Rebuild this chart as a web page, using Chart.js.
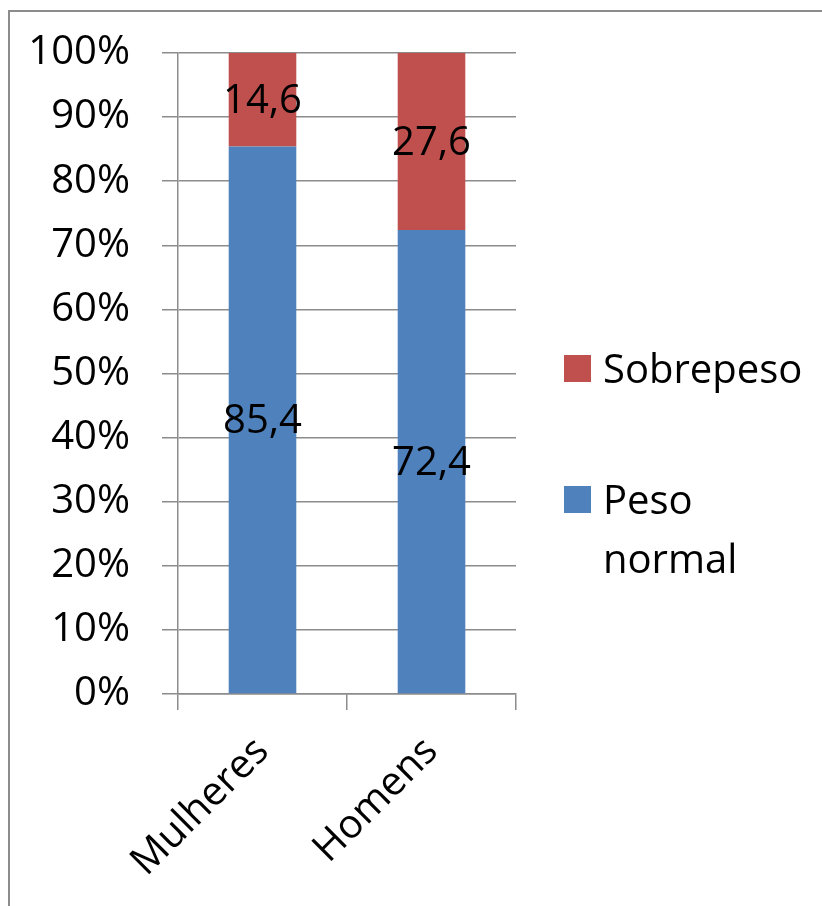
<!DOCTYPE html>
<html>
<head>
<meta charset="utf-8">
<script src="https://cdn.jsdelivr.net/npm/chart.js@4/dist/chart.umd.min.js"></script>
<style>
  html, body { margin: 0; padding: 0; background: #fff; }
  canvas { display: block; }
</style>
</head>
<body>
<canvas id="c" width="822" height="906"></canvas>
<script>
// Distribuição do estado nutricional por sexo (%)
const categories = ['Mulheres', 'Homens'];
const pesoNormal = [85.4, 72.4];
const sobrepeso = [14.6, 27.6];
const seriesNames = { normal: ['Peso', 'normal'], sobre: ['Sobrepeso'] };
const yTicks = [0, 10, 20, 30, 40, 50, 60, 70, 80, 90, 100];

const FONT = '"Open Sans", "DejaVu Sans", sans-serif';
const GRID = '#8c8c8c';

// White page with the thin frame around the figure
const framePlugin = {
  id: 'frame',
  beforeDraw(chart) {
    const ctx = chart.ctx;
    ctx.save();
    ctx.fillStyle = '#fff';
    ctx.fillRect(0, 0, chart.width, chart.height);
    ctx.strokeStyle = '#8c8c8c';
    ctx.lineWidth = 2;
    ctx.strokeRect(9, 11, chart.width + 20, chart.height + 20);
    ctx.restore();
  }
};

// Values written in the middle of every bar segment
const segmentLabels = {
  id: 'segmentLabels',
  afterDatasetsDraw(chart) {
    const ctx = chart.ctx;
    ctx.save();
    ctx.font = '40px ' + FONT;
    ctx.fillStyle = '#000';
    ctx.textAlign = 'center';
    ctx.textBaseline = 'middle';
    chart.data.datasets.forEach((ds, i) => {
      chart.getDatasetMeta(i).data.forEach((bar, j) => {
        const txt = ds.data[j].toFixed(1).replace('.', ',');
        ctx.fillText(txt, bar.x, (bar.y + bar.base) / 2 + 2);
      });
    });
    ctx.restore();
  }
};

// Legend on the right, entries stacked top to bottom, multi-line names allowed
const sideLegend = {
  id: 'sideLegend',
  afterDraw(chart, args, opts) {
    const ctx = chart.ctx;
    const ds = chart.data.datasets.slice().reverse();
    ctx.save();
    ctx.font = '40px ' + FONT;
    ctx.textAlign = 'left';
    ctx.textBaseline = 'alphabetic';
    ds.forEach((d, k) => {
      const top = opts.tops[k];
      ctx.fillStyle = d.backgroundColor;
      ctx.fillRect(opts.x, top, opts.box, opts.box);
      ctx.fillStyle = '#000';
      const lines = Array.isArray(d.label) ? d.label : [d.label];
      lines.forEach((ln, n) => {
        ctx.fillText(ln, opts.x + opts.box + 12, top + opts.box + 1 + n * opts.lineHeight);
      });
    });
    ctx.restore();
  }
};

new Chart(document.getElementById('c'), {
  type: 'bar',
  data: {
    labels: categories,
    datasets: [
      { label: seriesNames.normal, data: pesoNormal, backgroundColor: '#4F81BD' },
      { label: seriesNames.sobre, data: sobrepeso, backgroundColor: '#C0504D' }
    ]
  },
  plugins: [framePlugin, segmentLabels, sideLegend],
  options: {
    responsive: false,
    animation: false,
    layout: { padding: { top: 53, right: 306, left: 0, bottom: 0 } },
    datasets: { bar: { barPercentage: 0.4, categoryPercentage: 1.0 } },
    plugins: {
      legend: { display: false },
      tooltip: { enabled: false },
      sideLegend: { x: 564, tops: [355, 486], box: 27, lineHeight: 59 }
    },
    scales: {
      x: {
        stacked: true,
        offset: true,
        grid: {
          offset: true,
          drawOnChartArea: false,
          drawTicks: true,
          tickLength: 16,
          color: GRID,
          lineWidth: 1.5
        },
        border: { display: true, color: GRID, width: 1.5 },
        ticks: {
          color: '#000',
          font: { family: FONT, size: 40 },
          minRotation: 45,
          maxRotation: 45,
          padding: 18
        },
        afterFit(scale) {
          scale.height = 906 - 694;
          scale.paddingLeft = 0;
          scale.paddingRight = 0;
        }
      },
      y: {
        stacked: true,
        min: 0,
        max: 100,
        afterBuildTicks(scale) { scale.ticks = yTicks.map(v => ({ value: v })); },
        grid: {
          color: GRID,
          lineWidth: 1.5,
          drawTicks: true,
          tickLength: 16
        },
        border: { display: true, color: GRID, width: 1.5 },
        ticks: {
          color: '#000',
          font: { family: FONT, size: 40 },
          padding: 32,
          callback: v => v + '%'
        },
        afterFit(scale) {
          scale.width = 178;
          scale.paddingTop = 0;
          scale.paddingBottom = 0;
        }
      }
    }
  }
});
</script>
</body>
</html>
